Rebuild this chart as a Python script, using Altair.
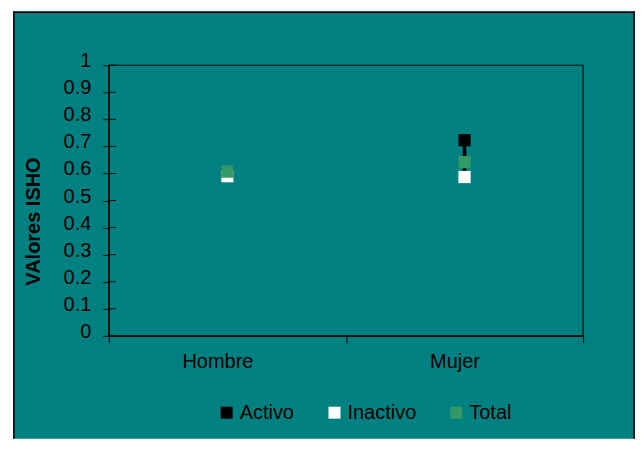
import altair as alt
import pandas as pd

categories = ["Hombre", "Mujer"]
series = ["Activo", "Inactivo", "Total"]
activo = [0.600, 0.723]
inactivo = [0.590, 0.587]
total = [0.607, 0.642]
y_ticks = [0, 0.1, 0.2, 0.3, 0.4, 0.5, 0.6, 0.7, 0.8, 0.9, 1.0]
colors = ["#000000", "#ffffff", "#339966"]

FONT = "Liberation Sans"
TEAL = "#008080"

rows = []
for s, vals in zip(series, [activo, inactivo, total]):
    for c, v in zip(categories, vals):
        rows.append({"Serie": s, "Sexo": c, "Valor": v})
long_df = pd.DataFrame(rows)
wide_df = pd.DataFrame({"Sexo": categories, "Activo": activo, "Inactivo": inactivo})
tick_df = pd.DataFrame({"t": y_ticks})
one = pd.DataFrame({"a": [0]})

x_scale = alt.Scale(type="band", domain=categories, paddingInner=0, paddingOuter=0)
y_scale = alt.Scale(domain=[0, 1])

x_axis = alt.Axis(
    labelAngle=0, tickBand="extent", tickSize=7, labelPadding=9, labelOffset=-10,
    labelFontSize=20, labelFont=FONT, labelColor="black",
    domainColor="black", tickColor="black", zindex=1, title=None,
)
y_axis = alt.Axis(
    values=y_ticks, format=".1~f", tickSize=6, labelPadding=12,
    labelOverlap=False, labelBaseline="middle", labelOffset=-4.5,
    labelFontSize=20, labelFont=FONT, labelColor="black",
    domainColor="black", tickColor="black", grid=False, zindex=1,
    title="VAlores ISHO",
    titleFont=FONT, titleFontSize=20, titleFontWeight="bold", titleColor="black",
    titleX=-75, titleY=156, titleAngle=-90, titleAlign="center", titleBaseline="middle",
)

L, R, T, B = -96, 527, -54, 374

# decorative chart frame (teal panel with black edges)
frame = alt.Chart(one).mark_rect(fill=TEAL).encode(
    x=alt.value(L), x2=alt.value(R), y=alt.value(T), y2=alt.value(B)
)
edge_left = alt.Chart(one).mark_rule(color="black", strokeWidth=1.5).encode(
    x=alt.value(L + 1), y=alt.value(T), y2=alt.value(B)
)
edge_right = alt.Chart(one).mark_rule(color="black", strokeWidth=1.5).encode(
    x=alt.value(R - 1), y=alt.value(T), y2=alt.value(B)
)
edge_top = alt.Chart(one).mark_rule(color="black", strokeWidth=1.5).encode(
    x=alt.value(L), x2=alt.value(R), y=alt.value(T + 1)
)
plot_border = alt.Chart(one).mark_rect(filled=False, stroke="black", strokeWidth=1.2).encode(
    x=alt.value(0), x2=alt.value(475), y=alt.value(0), y2=alt.value(271)
)

points = alt.Chart(long_df).mark_square(size=150, opacity=1, filled=True).encode(
    x=alt.X("Sexo:N", scale=x_scale, sort=categories, axis=x_axis),
    y=alt.Y("Valor:Q", scale=y_scale, axis=y_axis),
    color=alt.Color(
        "Serie:N",
        scale=alt.Scale(domain=series, range=colors),
        legend=alt.Legend(
            title=None, orient="none", direction="horizontal",
            legendX=108, legendY=338, symbolType="square", symbolSize=144,
            symbolStrokeWidth=0, labelFont=FONT, labelFontSize=20, labelColor="black",
            labelOffset=3, columnPadding=30, padding=0,
        ),
    ),
    order=alt.Order("ord:Q"),
).transform_calculate(
    ord="indexof(['Activo','Inactivo','Total'], datum.Serie)"
)

inner_ticks = alt.Chart(tick_df).mark_rule(color="black", strokeWidth=1).encode(
    y=alt.Y("t:Q", scale=y_scale, axis=y_axis), x=alt.value(0), x2=alt.value(7)
)

hilo = alt.Chart(wide_df).mark_rule(color="black", strokeWidth=3.5).encode(
    x=alt.X("Sexo:N", scale=x_scale, sort=categories, axis=x_axis),
    y=alt.Y("Inactivo:Q", scale=y_scale, axis=y_axis),
    y2="Activo:Q",
)

chart = alt.layer(
    frame, edge_left, edge_right, edge_top, plot_border, inner_ticks, hilo, points
).properties(
    width=475, height=271,
    padding={"left": 4, "top": 2, "right": 0, "bottom": 0},
    background="white",
).configure_view(stroke=None)

chart.save("out.html", embed_options={"renderer": "svg", "actions": False})
